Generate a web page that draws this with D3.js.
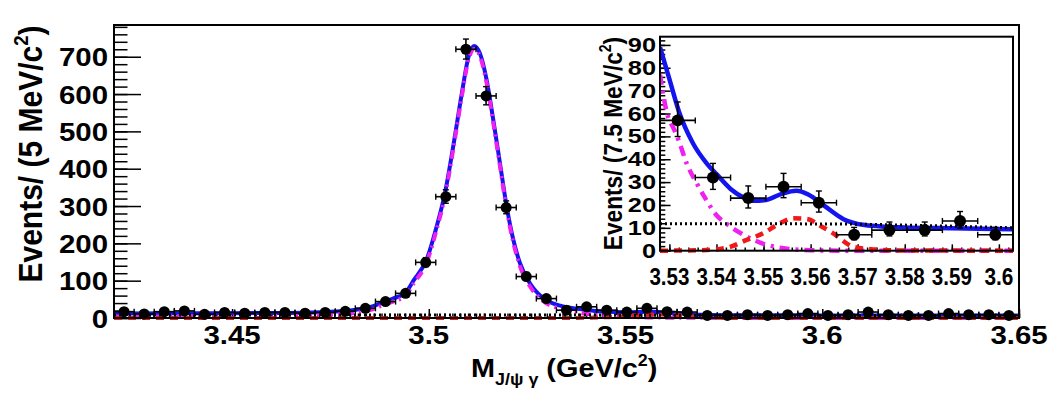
<!DOCTYPE html>
<html><head><meta charset="utf-8">
<script src="https://cdn.jsdelivr.net/npm/d3@7"></script>
<style>
html,body{margin:0;padding:0;background:#fff;}
svg{display:block;}
text{font-family:"Liberation Sans",Arial,Helvetica,sans-serif;font-weight:bold;fill:#000;}
</style>
</head><body>
<svg id="c" width="1060" height="396"></svg>
<script>
// ---------------- DATA ----------------
// Main plot: bin centres (GeV/c^2) and event counts
const mainBinCenters = [3.42256,3.42767,3.43278,3.43789,3.44300,3.44811,3.45322,3.45833,3.46344,3.46856,
  3.47367,3.47878,3.48389,3.48900,3.49411,3.49922,3.50433,3.50944,3.51456,3.51967,
  3.52478,3.52989,3.53500,3.54011,3.54522,3.55033,3.55544,3.56056,3.56567,3.57078,
  3.57589,3.58100,3.58611,3.59122,3.59633,3.60144,3.60656,3.61167,3.61678,3.62189,
  3.62700,3.63211,3.63722,3.64233,3.64744];
const mainCounts = [17,11,17,19,10,15,13,15,15,13,
  15,18,26,44,66,149,325,720,595,296,
  111,52,21,30,21,16,26,17,16,7,
  7,9,7,9,12,7,9,16,9,7,
  7,12,9,9,7];
const mainBinWidth = 0.0051111;

// Main plot fit curves
const mainTotalX = [3.42,3.44,3.46,3.47,3.475,3.48,3.485,3.489,3.4909,3.4941,3.4961,3.4995,3.5020,3.5041,3.5062,3.5084,3.5101,3.5115,3.5130,3.5147,3.5164,3.5181,3.5198,3.5215,3.5232,3.5257,3.5291,3.5334,3.5384,3.545,3.55,3.556,3.562,3.567,3.575,3.60,3.65];
const mainTotalY = [12,12.5,13.5,15,17,20,29,44,52,68,100,158,245,334,459,602,700,729,709,638,530,414,298,209,146,93,53,33,24,16.5,15.5,17,14,9.5,7.5,7,6.5];
const mainChic1X = [3.42,3.44,3.46,3.47,3.475,3.48,3.485,3.489,3.4909,3.4941,3.4961,3.4995,3.5020,3.5041,3.5062,3.5084,3.5101,3.5115,3.5130,3.5147,3.5164,3.5181,3.5198,3.5215,3.5232,3.5257,3.5291,3.5334,3.5384,3.545,3.55,3.556,3.562,3.575,3.65];
const mainChic1Y = [4,4.5,5.5,7,9,12,21,37,44,60,92,150,237,326,451,594,692,721,701,630,522,406,290,201,138,85,45,25,14,6,3,1.5,0.8,0.3,0];
const mainChic2X = [3.42,3.535,3.545,3.55,3.555,3.5585,3.562,3.567,3.572,3.58,3.65];
const mainChic2Y = [0,0.2,2,5,8.5,9.5,8,4,1,0.1,0];
const mainBkgX = [3.42,3.53,3.56,3.60,3.65];
const mainBkgY = [8,7.8,7.5,6.8,6.3];
const mainYTicks = [0,100,200,300,400,500,600,700];
const mainXTicks = [3.45,3.5,3.55,3.6,3.65];

// Inset: bin centres (7.5 MeV bins) and counts
const insetBinCenters = [3.53175,3.53925,3.54675,3.55425,3.56175,3.56925,3.57675,3.58425,3.59175,3.59925];
const insetCounts = [57,32,23,28,21,7,9,9,13,7];
const insetBinWidth = 0.0075;
const insetTotalX = [3.528,3.530,3.532,3.535,3.538,3.540,3.543,3.546,3.548,3.5505,3.554,3.557,3.5595,3.563,3.567,3.5715,3.576,3.58,3.59,3.603];
const insetTotalY = [89,75,61,47,38,33.5,27,23,21.8,22.2,25,26.2,24.6,19.5,13.8,11.2,10.5,10.2,9.8,9.4];
const insetChic1X = [3.528,3.5295,3.531,3.532,3.5337,3.5358,3.5379,3.540,3.542,3.5457,3.550,3.5553,3.56,3.57,3.603];
const insetChic1Y = [77,60,53,48,38,29.5,22,15.5,12,7,3,0.8,0.2,0,0];
const insetChic2X = [3.528,3.5379,3.5429,3.5464,3.5499,3.5535,3.5563,3.5592,3.5624,3.5648,3.5691,3.5737,3.579,3.603];
const insetChic2Y = [0,0.3,1.7,4.7,7.6,12,14.2,13.9,10.5,7.6,1.7,0.5,0.1,0];
const insetBkgX = [3.528,3.565,3.58,3.603];
const insetBkgY = [11.8,11.7,11.2,10];
const insetYTicks = [0,10,20,30,40,50,60,70,80,90];
const insetXTicks = [3.53,3.54,3.55,3.56,3.57,3.58,3.59,3.6];

// ---------------- DRAWING ----------------
const svg = d3.select('#c');
const SX = 1.11; // horizontal stretch of glyphs in the reference
const BLUE = '#1414f0', MAG = '#f020f0', RED = '#f01818';

function stext(g, x, y, parts, size, anchor, rotate, opt) {
  opt = opt || {};
  const sx = opt.sx || SX;
  const t = g.append('text')
    .attr('transform', `translate(${x},${y}) scale(${sx},1)` + (rotate ? ` rotate(${rotate})` : ''))
    .attr('font-size', size)
    .attr('text-anchor', anchor || 'start');
  if (opt.len) t.attr('textLength', opt.len).attr('lengthAdjust', 'spacingAndGlyphs');
  let shift = 0;
  parts.forEach(([s, kind]) => {
    const sp = t.append('tspan').text(s);
    if (kind === 'sup') { sp.attr('font-size', size * 0.62).attr('dy', -size * 0.42 - shift); shift = -size * 0.42; }
    else if (kind === 'sub') { sp.attr('font-size', size * 0.62).attr('dy', size * 0.3 - shift); shift = size * 0.3; }
    else { sp.attr('dy', -shift); shift = 0; }
  });
  return t;
}

function poisErr(n) { const r = Math.sqrt(n + 0.25); return [r - 0.5, r + 0.5]; }

function drawPanel(cfg) {
  const { x, y, g, centers, counts, bw, r, cap, curves, clipId } = cfg;
  const [x0, x1] = x.range(), [y0, y1] = y.range();
  g.append('clipPath').attr('id', clipId).append('rect')
    .attr('x', x0).attr('y', y1).attr('width', x1 - x0).attr('height', y0 - y1 + 3);
  const cg = g.append('g').attr('clip-path', `url(#${clipId})`);
  curves.forEach(c => {
    const pts = c.xs.map((v, i) => [v, c.ys[i]]);
    cg.append('path').datum(pts)
      .attr('fill', 'none').attr('stroke', c.color).attr('stroke-width', c.w)
      .attr('stroke-dasharray', c.dash || null)
      .attr('d', d3.line().x(d => x(d[0])).y(d => y(d[1])).curve(d3.curveMonotoneX));
  });
  const pg = g.append('g');
  centers.forEach((c, i) => {
    const n = counts[i];
    const [lo, hi] = poisErr(n);
    const cx = x(c), cy = y(n);
    const xl = x(c - bw / 2), xr = x(c + bw / 2);
    const yt = y(n + hi), yb = y(Math.max(0, n - lo));
    pg.append('line').attr('x1', xl).attr('x2', xr).attr('y1', cy).attr('y2', cy).attr('stroke', '#000').attr('stroke-width', 1.6);
    pg.append('line').attr('x1', cx).attr('x2', cx).attr('y1', yt).attr('y2', yb).attr('stroke', '#000').attr('stroke-width', 1.6);
    [xl, xr].forEach(xx => pg.append('line').attr('x1', xx).attr('x2', xx).attr('y1', cy - cap).attr('y2', cy + cap).attr('stroke', '#000').attr('stroke-width', 1.4));
    [yt, yb].forEach(yy => pg.append('line').attr('x1', cx - cap).attr('x2', cx + cap).attr('y1', yy).attr('y2', yy).attr('stroke', '#000').attr('stroke-width', 1.4));
    pg.append('circle').attr('cx', cx).attr('cy', cy).attr('r', r).attr('fill', '#000');
  });
}

function ticksAxis(g, axisGen, transform) {
  const a = g.append('g').attr('transform', transform).call(axisGen);
  a.select('.domain').remove();
  a.selectAll('line').attr('stroke', '#000').attr('stroke-width', 1.5);
  a.selectAll('text').remove();
  return a;
}

// ===== MAIN PLOT =====
const mx = d3.scaleLinear().domain([3.42, 3.65]).range([114, 1019]);
const my = d3.scaleLinear().domain([0, 785]).range([318, 25]);
const main = svg.append('g');

ticksAxis(main, d3.axisLeft(my).tickValues(d3.range(0, 785, 20)).tickSize(-13.5).tickFormat(''), `translate(114,0)`);
ticksAxis(main, d3.axisLeft(my).tickValues(mainYTicks).tickSize(-27).tickFormat(''), `translate(114,0)`);
ticksAxis(main, d3.axisBottom(mx).tickValues(d3.range(3.42, 3.6501, 0.002)).tickSize(-4.5).tickFormat(''), `translate(0,318)`);
ticksAxis(main, d3.axisBottom(mx).tickValues(mainXTicks).tickSize(-9).tickFormat(''), `translate(0,318)`);

drawPanel({
  x: mx, y: my, g: main, centers: mainBinCenters, counts: mainCounts, bw: mainBinWidth, r: 5.5, cap: 3, clipId: 'clipMain',
  curves: [
    { xs: mainTotalX, ys: mainTotalY, color: BLUE, w: 4 },
    { xs: mainChic1X, ys: mainChic1Y, color: MAG, w: 4, dash: '9,5,2,5' },
    { xs: mainChic2X, ys: mainChic2Y, color: RED, w: 4, dash: '8,6' },
    { xs: mainBkgX, ys: mainBkgY, color: '#000', w: 3, dash: '2,3' }
  ]
});
main.append('rect').attr('x', 114).attr('y', 25).attr('width', 1019 - 114).attr('height', 318 - 25)
  .attr('fill', 'none').attr('stroke', '#000').attr('stroke-width', 2);

mainYTicks.forEach(v => stext(main, 108, my(v) + 9.5, [[String(v), 'n']], 26.5, 'end'));
mainXTicks.forEach(v => stext(main, mx(v), 344, [[String(v), 'n']], 26.5, 'middle'));
stext(main, 471, 377, [['M', 'n'], ['J/ψ γ', 'sub'], [' (GeV/c', 'n'], ['2', 'sup'], [')', 'n']], 26, 'start');
stext(main, 42, 154, [['Events/ (5 MeV/c', 'n'], ['2', 'sup'], [')', 'n']], 30, 'middle', -90);

// ===== INSET =====
const ix = d3.scaleLinear().domain([3.528, 3.603]).range([660, 1013]);
const iy = d3.scaleLinear().domain([0, 93.6]).range([250.7, 36.7]);
const inset = svg.append('g');

ticksAxis(inset, d3.axisLeft(iy).tickValues(d3.range(0, 93.6, 2)).tickSize(-5.3).tickFormat(''), `translate(660,0)`);
ticksAxis(inset, d3.axisLeft(iy).tickValues(insetYTicks).tickSize(-10.6).tickFormat(''), `translate(660,0)`);
ticksAxis(inset, d3.axisBottom(ix).tickValues(d3.range(3.528, 3.6031, 0.002)).tickSize(-3.2).tickFormat(''), `translate(0,250.7)`);
ticksAxis(inset, d3.axisBottom(ix).tickValues(insetXTicks).tickSize(-6.4).tickFormat(''), `translate(0,250.7)`);

drawPanel({
  x: ix, y: iy, g: inset, centers: insetBinCenters, counts: insetCounts, bw: insetBinWidth, r: 6, cap: 3, clipId: 'clipInset',
  curves: [
    { xs: insetTotalX, ys: insetTotalY, color: BLUE, w: 4.5 },
    { xs: insetChic1X, ys: insetChic1Y, color: MAG, w: 4.5, dash: '10,6,3,6' },
    { xs: insetChic2X, ys: insetChic2Y, color: RED, w: 4.5, dash: '8,6' },
    { xs: insetBkgX, ys: insetBkgY, color: '#000', w: 3, dash: '2,3' }
  ]
});
inset.append('rect').attr('x', 660).attr('y', 36.7).attr('width', 1013 - 660).attr('height', 250.7 - 36.7)
  .attr('fill', 'none').attr('stroke', '#000').attr('stroke-width', 2);

insetYTicks.forEach(v => stext(inset, 656, iy(v) + 7, [[String(v), 'n']], 19.5, 'end', 0, { sx: 1.3 }));
insetXTicks.forEach(v => {
  const s = String(v);
  stext(inset, ix(v), 285, [[s, 'n']], 23, 'middle', 0, { sx: 1, len: s.length === 4 ? 40 : 29 });
});
stext(inset, 622, 143.5, [['Events/ (7.5 MeV/c', 'n'], ['2', 'sup'], [')', 'n']], 22.7, 'middle', -90);
</script>
</body></html>
